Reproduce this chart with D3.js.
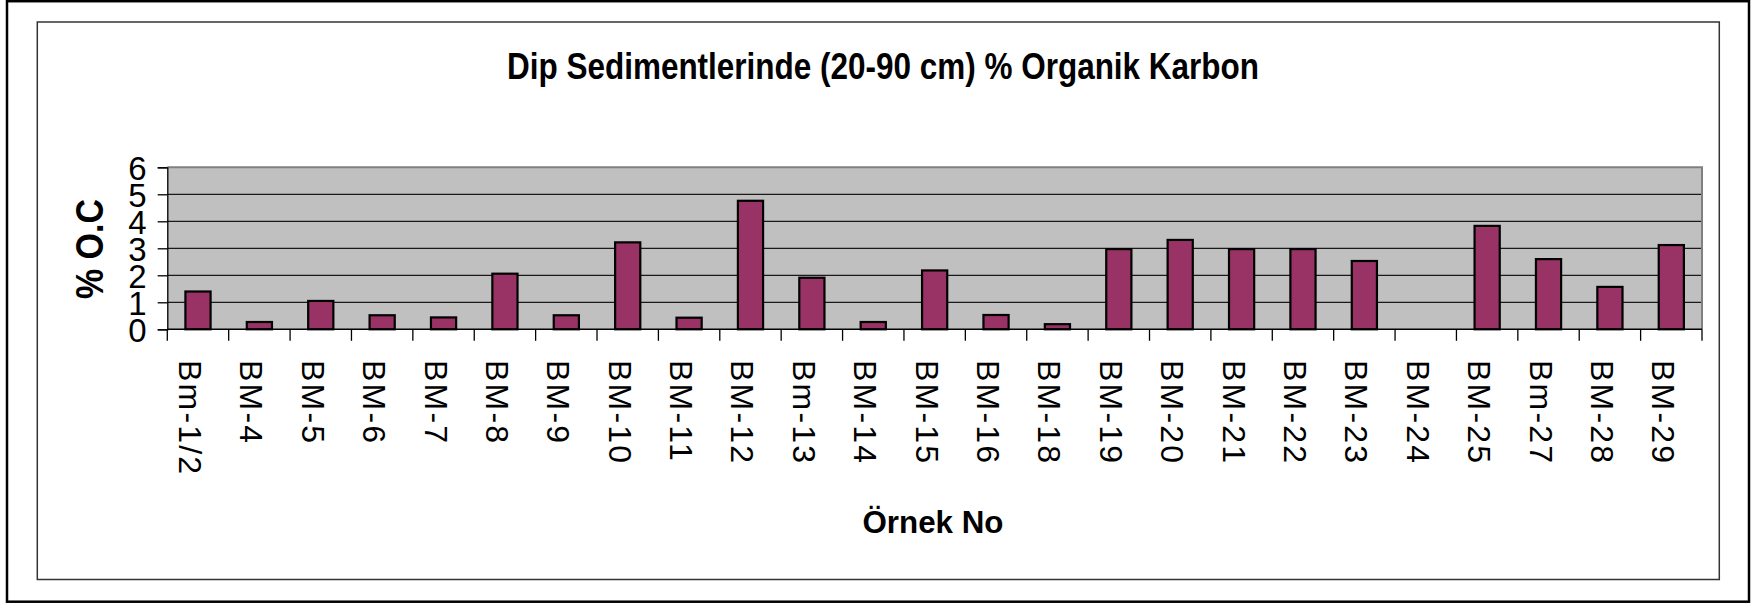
<!DOCTYPE html>
<html>
<head>
<meta charset="utf-8">
<script src="https://cdn.jsdelivr.net/npm/d3@7"></script>
<style>
  body { margin: 0; background: #fff; }
  svg { display: block; font-family: "Liberation Sans", Arial, sans-serif; }
</style>
</head>
<body>
<div id="chart"></div>
<script>
/**
 * DATA
 * */
const samples = ["Bm-1/2", "BM-4", "BM-5", "BM-6", "BM-7", "BM-8", "BM-9", "BM-10", "BM-11", "BM-12",
  "Bm-13", "BM-14", "BM-15", "BM-16", "BM-18", "BM-19", "BM-20", "BM-21", "BM-22", "BM-23",
  "BM-24", "BM-25", "Bm-27", "BM-28", "BM-29"];
const organicCarbon = [1.4, 0.27, 1.05, 0.52, 0.44, 2.06, 0.52, 3.22, 0.43, 4.76,
  1.91, 0.27, 2.18, 0.53, 0.19, 2.97, 3.31, 2.97, 2.97, 2.53,
  0, 3.83, 2.6, 1.57, 3.12];
const yTicks = [0, 1, 2, 3, 4, 5, 6];

const title = "Dip Sedimentlerinde (20-90 cm) % Organik Karbon";
const xTitle = "Örnek No";
const yTitle = "% O.C";

/**
 * CONSTANTS
 * */
const width = 1751,
  height = 604,
  plot = { left: 167.3, right: 1702, top: 167.3, bottom: 329.3 };

const data = samples.map((s, i) => ({ sample: s, value: organicCarbon[i] }));

const svg = d3.select("#chart")
  .append("svg")
  .attr("width", width)
  .attr("height", height);

// frames (outer + chart area)
svg.append("rect")
  .attr("x", 7).attr("y", 1.2)
  .attr("width", 1742).attr("height", 600.5)
  .attr("fill", "#fff")
  .attr("stroke", "#000")
  .attr("stroke-width", 2.5);

svg.append("rect")
  .attr("x", 37.3).attr("y", 22)
  .attr("width", 1682).attr("height", 557.5)
  .attr("fill", "#fff")
  .attr("stroke", "#333")
  .attr("stroke-width", 1.5);

// SCALES
const xScale = d3.scaleBand()
  .domain(samples)
  .range([plot.left, plot.right])
  .padding(0);

const yScale = d3.scaleLinear()
  .domain([0, 6])
  .range([plot.bottom, plot.top]);

const bw = xScale.bandwidth();
const barW = bw * 0.41;

// plot background
svg.append("rect")
  .attr("x", plot.left).attr("y", plot.top)
  .attr("width", plot.right - plot.left)
  .attr("height", plot.bottom - plot.top)
  .attr("fill", "#c0c0c0");

// gridlines
svg.append("g")
  .selectAll("line")
  .data(yTicks.filter(d => d > 0 && d < 6))
  .join("line")
  .attr("x1", plot.left).attr("x2", plot.right)
  .attr("y1", d => yScale(d)).attr("y2", d => yScale(d))
  .attr("stroke", "#1a1a1a")
  .attr("stroke-width", 1.3);

// top + right border (grey)
svg.append("path")
  .attr("d", `M${plot.left},${plot.top}H${plot.right}V${plot.bottom}`)
  .attr("fill", "none")
  .attr("stroke", "#808080")
  .attr("stroke-width", 2);

// bars
svg.append("g")
  .selectAll("rect")
  .data(data.filter(d => d.value > 0))
  .join("rect")
  .attr("x", d => xScale(d.sample) + (bw - barW) / 2)
  .attr("y", d => yScale(d.value))
  .attr("width", barW)
  .attr("height", d => yScale(0) - yScale(d.value))
  .attr("fill", "#993366")
  .attr("stroke", "#000")
  .attr("stroke-width", 2.2);

// y axis
const yAxis = d3.axisLeft(yScale)
  .tickValues(yTicks)
  .tickSize(9.6)
  .tickPadding(11)
  .tickFormat(d3.format("d"));

svg.append("g")
  .attr("class", "y-axis")
  .attr("transform", `translate(${plot.left},0)`)
  .call(yAxis)
  .call(g => g.select(".domain").attr("stroke", "#000").attr("stroke-width", 1.3))
  .call(g => g.selectAll(".tick line").attr("stroke", "#000").attr("stroke-width", 1.3))
  .call(g => g.selectAll(".tick text")
    .attr("font-family", "'Liberation Sans', Arial, sans-serif")
    .attr("font-size", 33)
    .attr("dy", "0.36em")
    .attr("fill", "#000"));

// x axis (line + ticks at band edges)
const xEdges = samples.map(s => xScale(s)).concat([plot.right]);

svg.append("line")
  .attr("x1", plot.left).attr("x2", plot.right)
  .attr("y1", plot.bottom).attr("y2", plot.bottom)
  .attr("stroke", "#000")
  .attr("stroke-width", 1.5);

svg.append("g")
  .selectAll("line")
  .data(xEdges)
  .join("line")
  .attr("x1", d => d).attr("x2", d => d)
  .attr("y1", plot.bottom).attr("y2", plot.bottom + 11.5)
  .attr("stroke", "#000")
  .attr("stroke-width", 1.3);

// x tick labels, rotated
svg.append("g")
  .selectAll("text")
  .data(samples)
  .join("text")
  .attr("transform", d => `translate(${xScale(d) + bw / 2},360) rotate(90)`)
  .attr("dy", 19)
  .attr("text-anchor", "start")
  .attr("font-size", 32)
  .attr("letter-spacing", 2.2)
  .attr("fill", "#000")
  .text(d => d);

// titles
svg.append("text")
  .attr("x", 883).attr("y", 79)
  .attr("text-anchor", "middle")
  .attr("font-size", 36)
  .attr("font-weight", "bold")
  .attr("textLength", 752)
  .attr("lengthAdjust", "spacingAndGlyphs")
  .text(title);

svg.append("text")
  .attr("x", 933).attr("y", 533)
  .attr("text-anchor", "middle")
  .attr("font-size", 32)
  .attr("font-weight", "bold")
  .attr("textLength", 141)
  .attr("lengthAdjust", "spacingAndGlyphs")
  .text(xTitle);

svg.append("text")
  .attr("transform", "translate(88.5,249) rotate(-90)")
  .attr("dy", 14)
  .attr("text-anchor", "middle")
  .attr("font-size", 39)
  .attr("font-weight", "bold")
  .attr("textLength", 100)
  .attr("lengthAdjust", "spacingAndGlyphs")
  .text(yTitle);
</script>
</body>
</html>
